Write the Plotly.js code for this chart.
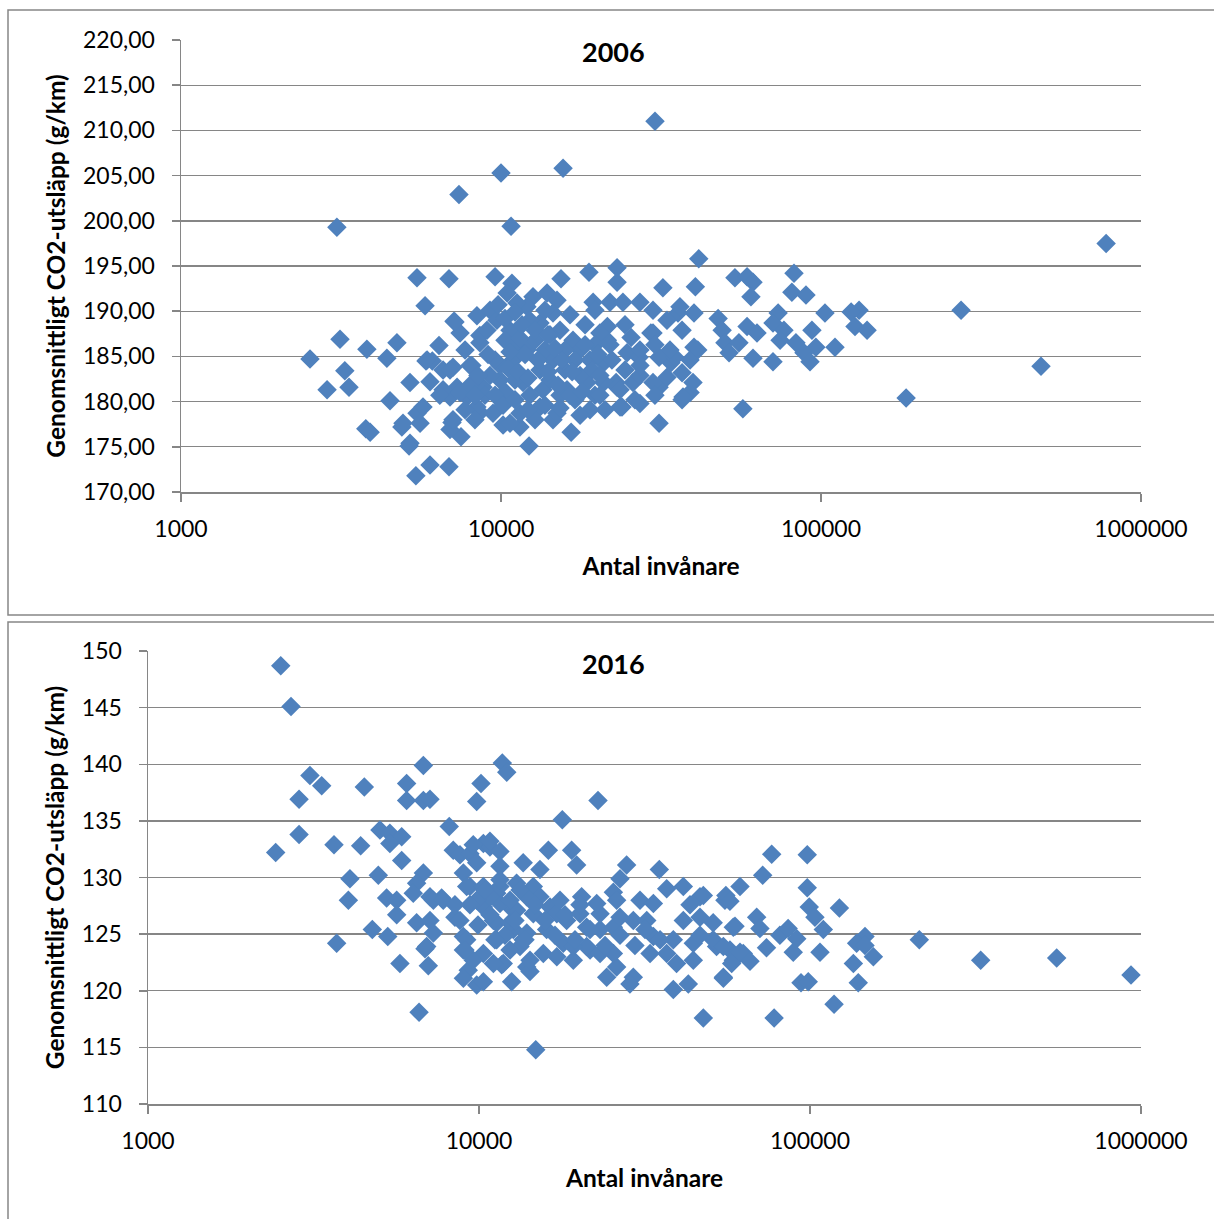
<!DOCTYPE html>
<html><head><meta charset="utf-8">
<script src="https://cdn.plot.ly/plotly-3.0.1.min.js"></script>
<style>html,body{margin:0;padding:0;background:#fff;overflow:hidden}</style>
</head><body><div id="chart" style="width:1214px;height:1219px"></div>
<script>
// ---------- DATA ----------
const pop2006 = [3070,7390,10000,10750,15630,30290,778000,274000,487000,184500,
2530,2860,3140,3250,3350,3810,4400,4730,4500,3780,3900,4900,5465,6880,5790,5195,5830,6100,6400,7130,
7450,8590,8590,8410,9580,10820,10450,15400,18840,23050,23050,19400,21910,24050,27180,5465,5585,5195,5160,5420,
6000,6880,7030,7500,6930,12240,16560,14540,10150,11460,8590,6000,6590,7080,8000,7290,6930,7830,
41500,32060,40500,53830,58750,61300,60400,82350,81100,89750,131500,124200,102900,127700,139300,110600,
73450,70790,76600,83500,74500,93700,96400,88500,92400,47700,49100,50100,51600,55400,58750,63100,61300,70790,57000,31180,
35730,40100,36800,40100,41200,33970,36800,38980,36800,31180,26220,23880,22900,29400,25500,24770,27000,31180,34960,
21500,21500,20950,20950,29850,33010,36240,12590,13930,14960,12050,11220,9240,9710,10670,13240,14540,15290,16790,17660,
20370,27180,29850,33730,38980,7180,5875,6930,8110,6590,7450,8790,9930,10900,12050,13240,14540,11720,13520,16080,18580,
23050,25850,29850,33010,37050,39810,5705,7080,8410,9440,10670,11460,13240,14960,23550,27180,4940,
10290,11060,11890,12770,13720,14220,15850,17030,18970,19660,18310,16430,12310,11460,10670,9930,9240,10290,11060,12310,
14220,15290,17030,19660,17660,15850,8910,8000,9580,9040,7720,6440,8290,12770,13720,18970,21130,20370,24410,27180,
30270,21910,24410,19660,13720,
9790,10290,11060,11630,12770,14020,14750,15520,16680,18310,19240,20100,10520,11300,12140,13050,14020,15070,16430,17910,
9580,10150,11060,12140,15290,17660,8470,9110,8290,7720,22220,23550,20370,27180,30270];
const co2_2006 = [199.3,202.9,205.3,199.4,205.8,211.0,197.5,190.1,183.9,180.4,
184.7,181.3,186.9,183.4,181.6,185.8,184.8,186.5,180.1,177.0,176.6,177.2,193.7,193.6,190.6,182.1,184.5,184.5,186.2,188.9,
187.6,186.5,187.3,189.5,193.8,193.1,192.0,193.6,194.3,194.8,193.2,191.0,191.0,191.0,191.0,178.7,177.6,175.4,175.1,171.8,
173.0,172.8,177.7,176.1,176.9,175.1,176.6,178.0,177.4,177.2,178.8,182.2,183.5,183.8,184.0,181.6,180.5,180.5,
195.8,192.6,192.7,193.7,193.8,193.2,191.6,194.2,192.1,191.8,190.1,189.9,189.8,188.3,187.9,186.0,
189.8,188.7,187.9,186.5,186.8,187.9,186.0,185.4,184.4,189.2,187.9,186.5,185.4,186.5,188.3,187.6,184.8,184.4,179.2,177.6,
189.8,189.8,187.9,186.0,185.7,184.3,183.2,181.0,180.2,181.6,180.2,179.4,182.1,187.6,187.1,185.4,184.9,184.9,184.9,
188.3,186.8,184.3,182.1,190.1,189.0,190.5,191.6,192.0,191.2,190.5,190.9,190.1,189.0,187.9,188.7,189.8,187.9,186.8,185.7,
187.6,185.7,187.6,185.7,184.6,188.8,184.6,183.5,184.0,181.3,181.0,181.6,182.4,184.6,185.7,183.5,184.6,182.1,181.3,181.3,182.1,
181.6,182.1,182.1,182.7,180.5,182.1,179.4,178.0,179.4,178.7,177.6,178.7,179.4,178.7,179.4,179.8,177.6,
186.8,186.3,185.2,186.8,185.7,187.4,185.7,184.6,184.6,186.3,188.5,189.6,189.0,187.0,185.5,184.0,182.9,181.1,182.4,180.7,
182.4,180.7,180.2,180.7,182.9,183.5,180.7,181.8,184.6,187.9,185.7,180.7,178.0,178.0,179.6,179.1,179.1,180.7,183.5,182.9,
180.7,186.3,188.5,190.1,190.1,
190.7,189.2,189.9,188.5,187.9,187.4,185.9,184.6,183.3,186.3,183.5,185.2,183.7,183.3,182.6,184.6,183.3,181.8,180.7,181.1,
180.7,179.6,180.2,179.1,179.3,178.5,182.9,185.2,180.7,179.1,184.6,181.3,182.9,184.0,186.3];

const pop2016 = [2518,2704,3085,3348,2860,2860,2431,3647,4390,4503,6790,6045,6045,6790,7110,10140,9840,11760,12130,8130,
5020,5380,5840,5380,5840,4075,4963,4030,3715,5260,5640,5640,4760,5300,5770,7030,6590,6790,6480,6330,
7110,7710,6480,7110,7280,6870,8360,8760,9390,10310,10790,11570,11570,13600,8970,9390,8460,8970,8970,9280,
8970,9840,10310,11710,12550,10310,11310,13300,13940,10310,11310,12410,11310,12700,13600,
17850,9610,10790,9840,15280,16200,19050,19720,27930,35050,26670,25470,30650,33630,36900,41420,46530,55340,61440,20420,
7280,7800,6950,14840,47610,11840,14260,15640,17180,19270,21650,24310,26050,29250,28580,38640,42890,54730,58650,44410,
39530,36900,32870,25470,21140,17980,16010,13940,12410,11050,10310,11570,12990,14590,16390,18400,21140,23210,25470,29250,
32120,33630,38640,41420,46530,51000,58650,57300,62870,52200,44410,23210,19270,9180,9610,11050,8760,9180,10310,11570,
12990,14590,15280,13940,12410,10790,9840,17180,20180,23210,26670,26050,22680,22880,
76600,98100,71950,47600,55700,57300,98100,99500,103500,122700,109700,69000,70600,59350,81100,85900,91200,73900,89000,107200,
51000,54730,61440,65880,58000,54730,93930,98800,139900,135200,146600,138300,155400,146600,213900,327900,556300,932700,118200,77900,
9390,9930,10790,11980,12840,13770,14760,15820,16970,18190,19500,21650,24040,26670,29590,31740,35240,10420,11570,13300,
12410,14260,11170,9070,8460,17570,20180,46520,43400];
const co2_2016 = [148.7,145.1,139.0,138.1,136.9,133.8,132.2,132.9,132.8,138.0,139.9,138.3,136.8,136.8,136.9,138.3,136.7,140.1,139.3,134.5,
134.2,133.9,133.6,133.0,131.5,129.9,130.2,128.0,124.2,128.2,128.0,126.7,125.4,124.8,122.4,122.2,118.1,130.4,129.5,128.6,
128.3,128.2,126.0,126.2,125.1,123.7,132.4,132.0,132.1,133.0,132.7,132.3,131.0,131.3,130.4,129.2,126.5,124.8,123.6,121.8,
121.1,120.5,120.8,122.3,120.8,123.3,124.5,123.9,122.1,127.7,128.6,127.4,126.0,125.4,124.5,
135.1,132.9,133.2,131.3,130.7,132.4,132.4,131.1,131.1,130.7,129.9,128.7,128.0,127.7,129.0,129.2,128.3,128.0,129.2,128.3,
128.0,128.0,123.9,114.8,117.6,122.4,121.7,123.3,123.0,122.7,123.6,121.2,122.1,121.2,120.6,120.1,120.6,121.2,122.7,122.7,
122.4,123.3,123.3,123.3,123.9,124.2,125.4,125.1,126.0,126.2,127.4,127.7,127.1,126.8,127.4,126.2,125.6,125.4,125.6,126.2,
126.2,124.8,124.5,126.2,126.5,126.0,125.6,123.6,123.3,123.9,124.2,123.3,123.9,124.5,122.7,122.4,126.2,129.2,129.2,129.2,
129.5,129.2,128.3,128.3,128.0,128.3,128.0,126.8,126.8,126.8,126.5,128.0,127.7,136.8,
132.05,132.0,130.2,128.4,128.4,127.9,129.1,127.4,126.5,127.3,125.4,126.5,125.5,125.7,124.9,125.5,124.6,123.8,123.4,123.4,
124.5,123.9,123.4,122.6,122.4,121.1,120.7,120.8,120.7,122.4,124.8,124.2,123.0,124.0,124.5,122.7,122.9,121.4,118.8,117.6,
127.6,125.8,126.7,124.9,126.2,124.5,127.6,126.2,124.9,126.7,124.5,125.4,124.0,124.9,124.0,125.4,124.5,128.9,129.8,128.9,
123.6,122.7,124.5,123.6,127.6,128.0,127.6,124.9,127.6];

const xTickVals = [1000, 10000, 100000, 1000000];
const xTickText = ['1000', '10000', '100000', '1000000'];
const yTicks2006 = [170, 175, 180, 185, 190, 195, 200, 205, 210, 215, 220];
const yTicks2016 = [110, 115, 120, 125, 130, 135, 140, 145, 150];
const chartTitles = ['2006', '2016'];
const xTitleText = 'Antal invånare';
const yTitleText = 'Genomsnittligt CO2-utsläpp (g/km)';

// ---------- LAYOUT ----------
const W = 1214, H = 1219;
const fx = p => p / W, fy = p => 1 - p / H;
const FONT = 'Lato, "Liberation Sans", sans-serif';
const GRID = '#868686';
const tickFont = {family: FONT, size: 23, color: '#000'};
const titleFont = {family: FONT, size: 24.5, color: '#000', weight: 'bold'};

function xAxis(left, anchor) {
  return {
    type: 'log', range: [3, 6], domain: [fx(left), fx(1141)], anchor: anchor,
    tickvals: xTickVals, ticktext: xTickText, tickfont: tickFont,
    ticks: 'outside', ticklen: 8, tickwidth: 1.5, tickcolor: GRID, ticklabelstandoff: 8,
    showline: true, linecolor: GRID, linewidth: 1.5, showgrid: false, zeroline: false,
    automargin: false,
    title: {text: xTitleText, font: titleFont, standoff: 17}
  };
}
function yAxis(top, bottom, range, vals, fmt, anchor, standoff) {
  return {
    range: range, domain: [fy(bottom), fy(top)], anchor: anchor,
    tickvals: vals, tickformat: fmt, tickfont: tickFont,
    ticks: 'outside', ticklen: 8, tickwidth: 1.5, tickcolor: GRID, ticklabelstandoff: 12,
    showline: true, linecolor: GRID, linewidth: 1.5,
    showgrid: true, gridcolor: GRID, gridwidth: 1.4, zeroline: false,
    automargin: false,
    title: {text: yTitleText, font: titleFont, standoff: standoff}
  };
}

const marker = {symbol: 'diamond', size: 15, color: '#4F81BD', line: {width: 0}};

const data = [
  {type: 'scatter', mode: 'markers', x: pop2006, y: co2_2006, xaxis: 'x', yaxis: 'y', marker: marker, cliponaxis: false},
  {type: 'scatter', mode: 'markers', x: pop2016, y: co2_2016, xaxis: 'x2', yaxis: 'y2', marker: marker, cliponaxis: false}
];

const frameLine = {color: '#868686', width: 1.5};
const layout = {
  width: W, height: H, margin: {l: 0, r: 0, t: 0, b: 0, pad: 0},
  paper_bgcolor: '#fff', plot_bgcolor: '#fff', showlegend: false,
  separators: ', ', hovermode: false,
  font: {family: FONT, color: '#000'},
  xaxis: xAxis(181, 'y'),
  yaxis: yAxis(40, 492, [170, 220], yTicks2006, '.2f', 'x', 10),
  xaxis2: xAxis(148, 'y2'),
  yaxis2: yAxis(651, 1104, [110, 150], yTicks2016, 'd', 'x2', 10),
  shapes: [
    {type: 'rect', xref: 'paper', yref: 'paper', x0: fx(8), x1: fx(1230), y0: fy(615), y1: fy(10), line: frameLine, layer: 'below'},
    {type: 'rect', xref: 'paper', yref: 'paper', x0: fx(8), x1: fx(1230), y0: fy(1235), y1: fy(622), line: frameLine, layer: 'below'}
  ],
  annotations: [
    {text: chartTitles[0], xref: 'paper', yref: 'paper', x: fx(613), y: fy(52), xanchor: 'center', yanchor: 'middle', showarrow: false,
     font: {family: FONT, size: 27, color: '#000', weight: 'bold'}},
    {text: chartTitles[1], xref: 'paper', yref: 'paper', x: fx(613), y: fy(663), xanchor: 'center', yanchor: 'middle', showarrow: false,
     font: {family: FONT, size: 27, color: '#000', weight: 'bold'}}
  ]
};

Plotly.newPlot('chart', data, layout, {staticPlot: true, displayModeBar: false});
</script>
</body></html>
